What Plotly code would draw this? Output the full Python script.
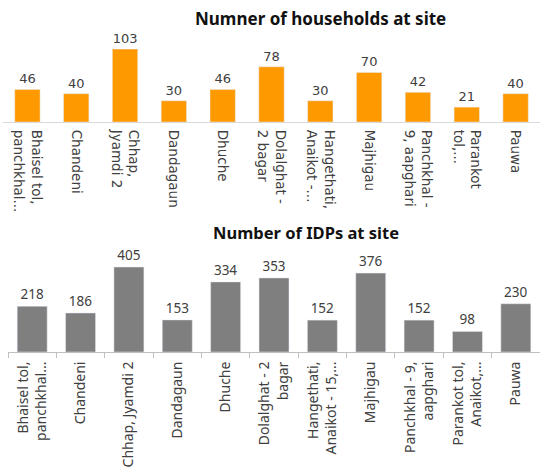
import plotly.graph_objects as go

# Households per site
hh_sites = ["Bhaisel tol,<br>panchkhal...", "Chandeni", "Chhap,<br>Jyamdi 2", "Dandagaun",
            "Dhuche", "Dolalghat -<br>2 bagar", "Hangethati,<br>Anaikot -...", "Majhigau",
            "Panchkhal -<br>9, aapghari", "Parankot<br>tol,...", "Pauwa"]
hh_values = [46, 40, 103, 30, 46, 78, 30, 70, 42, 21, 40]

# IDPs per site
idp_sites = ["Bhaisel tol,<br>panchkhal...", "Chandeni", "Chhap, Jyamdi 2", "Dandagaun",
             "Dhuche", "Dolalghat - 2<br>bagar", "Hangethati,<br>Anaikot - 15,...", "Majhigau",
             "Panchkhal - 9,<br>aapghari", "Parankot tol,<br>Anaikot,...", "Pauwa"]
idp_values = [218, 186, 405, 153, 334, 353, 152, 376, 152, 98, 230]

W, H = 540, 471
TXT = "#404040"

fig = go.Figure()
fig.add_trace(go.Bar(
    x=hh_sites, y=hh_values, marker_color="#ff9900", width=0.52,
    text=hh_values, textposition="outside", cliponaxis=False,
    textfont=dict(family="DejaVu Sans", size=13, color=TXT),
    xaxis="x", yaxis="y", showlegend=False,
))
fig.add_trace(go.Bar(
    x=idp_sites, y=idp_values, marker_color="#7f7f7f", width=0.62,
    text=idp_values, textposition="outside", cliponaxis=False,
    textfont=dict(family="Noto Sans", size=13.5, color=TXT),
    xaxis="x2", yaxis="y2", showlegend=False,
))

fig.update_layout(
    width=W, height=H,
    margin=dict(l=0, r=0, t=0, b=0),
    paper_bgcolor="white", plot_bgcolor="white",
    xaxis=dict(domain=[3 / W, 1], anchor="y", showgrid=False,
               showline=True, linecolor="#d9d9d9", linewidth=1,
               tickangle=90, ticks="", ticklabelstandoff=4,
               tickfont=dict(family="DejaVu Sans", size=13.5, color=TXT)),
    yaxis=dict(domain=[1 - 122 / H, 1 - 30 / H], range=[0, 130], anchor="x",
               visible=False),
    xaxis2=dict(domain=[8 / W, 1], anchor="y2", showgrid=False,
                showline=True, linecolor="#bfbfbf", linewidth=1,
                tickangle=-90, ticks="outside", tickson="boundaries",
                ticklen=5, tickcolor="#bfbfbf", ticklabelstandoff=3,
                tickfont=dict(family="Noto Sans", size=14, color=TXT)),
    yaxis2=dict(domain=[1 - 352 / H, 1 - 250 / H], range=[0, 486], anchor="x2",
                visible=False),
    annotations=[
        dict(text="<b>Numner of households at site</b>", x=320 / W, y=1 - 19 / H,
             xref="paper", yref="paper", showarrow=False, yanchor="middle",
             font=dict(family="Noto Sans", size=17, color="#111111")),
        dict(text="<b>Number of IDPs at site</b>", x=306 / W, y=1 - 232 / H,
             xref="paper", yref="paper", showarrow=False, yanchor="middle",
             font=dict(family="Noto Sans", size=16.5, color="#111111")),
    ],
)

fig.write_html("out.html")
